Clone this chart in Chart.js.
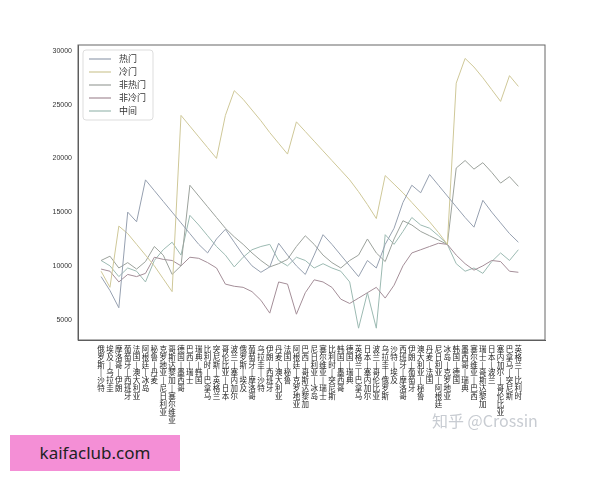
<!DOCTYPE html>
<html><head><meta charset="utf-8">
<script src="https://cdn.jsdelivr.net/npm/chart.js@4"></script>
<style>
body{margin:0;background:#fff;width:600px;height:480px;position:relative;overflow:hidden}
#wrap{position:absolute;left:0;top:0;width:600px;height:480px}
.pink{position:absolute;left:10px;top:435px;width:170px;height:36px;background:#f48fd6;color:#222;font:17px "Noto Sans",sans-serif;line-height:36px;text-align:center}
.wm{position:absolute;left:432px;top:408px;color:#c8ccd2;font:16px "Noto Sans CJK SC",sans-serif}
</style></head><body>
<div id="wrap"><canvas id="chart" width="600" height="480"></canvas></div>
<div class="pink">kaifaclub.com</div>
<div class="wm">知乎 @Crossin</div>
<script>
'use strict';

const matches = ['俄罗斯-沙特','埃及-乌拉圭','摩洛哥-伊朗','葡萄牙-西班牙','法国-澳大利亚','阿根廷-冰岛','秘鲁-丹麦','克罗地亚-尼日利亚',
  '哥斯达黎加-塞尔维亚','德国-墨西哥','巴西-瑞士','瑞典-韩国','比利时-巴拿马','突尼斯-英格兰','哥伦比亚-日本','波兰-塞内加尔',
  '俄罗斯-埃及','葡萄牙-摩洛哥','乌拉圭-沙特','伊朗-西班牙','丹麦-澳大利亚','法国-秘鲁','阿根廷-克罗地亚','巴西-哥斯达黎加',
  '尼日利亚-冰岛','塞尔维亚-瑞士','比利时-突尼斯','韩国-墨西哥','德国-瑞典','英格兰-巴拿马','日本-塞内加尔','波兰-哥伦比亚',
  '乌拉圭-俄罗斯','沙特-埃及','西班牙-摩洛哥','伊朗-葡萄牙','澳大利亚-秘鲁','丹麦-法国','尼日利亚-阿根廷','冰岛-克罗地亚',
  '韩国-德国','墨西哥-瑞典','塞尔维亚-巴西','瑞士-哥斯达黎加','日本-波兰','塞内加尔-哥伦比亚','巴拿马-突尼斯','英格兰-比利时'];

const hot = [9000,7700,6100,15000,14100,18000,17000,16000,15000,14000,13000,12000,11200,12500,13400,12200,
  11000,10000,9400,9900,12100,11000,10000,9200,11000,12900,12000,11000,10000,9000,10500,9800,
  12000,13500,15900,17500,16800,18500,17500,16500,15500,14500,13600,16100,15000,14000,13000,12200];
const cold = [9500,8000,13700,13000,12000,11000,10000,8800,7600,24000,23000,22000,21000,20000,24000,26300,
  25500,24500,23500,22400,21400,20400,23400,22500,21600,20700,19800,18900,18000,16900,15700,14400,
  18400,17600,16800,15900,15000,14100,13100,12000,27000,29300,28500,27500,26400,25300,27700,26700];
const notHot = [10500,10900,9800,10300,9700,10400,11800,11000,9200,10000,17500,16500,15500,14500,13500,12700,
  12000,11200,10500,9900,10200,10600,11800,12800,12000,11000,10300,9800,10500,11000,12500,11200,
  10400,12500,14200,13800,13200,12800,12400,12000,19100,19800,19000,19600,18700,17700,18300,17400];
const notCold = [9700,9500,8500,9200,9000,9300,10800,10600,10500,10000,10800,10700,10300,9800,8300,8100,
  8000,7600,6800,5600,8500,8300,5500,7500,8700,8500,8000,6900,6500,7000,7500,8000,
  7000,8200,10000,11200,11500,11800,12100,12000,11000,10200,9600,10000,10500,10400,9500,9400];
const middle = [10500,10000,9000,9800,9500,8500,10500,11500,12200,11000,14700,13800,12800,11800,11000,9900,
  10800,11500,11800,12000,10500,10000,10800,10500,9800,10200,9800,9500,8500,4200,7500,4200,
  12900,12000,13200,14500,13800,13500,12800,12000,10200,9500,9800,9300,10400,11200,10500,11500];

const names = ['热门','冷门','非热门','非冷门','中间'];
const colors = ['#96a0b0','#cfc898','#9ca29c','#a48e98','#9cbab2'];
const series = [hot, cold, notHot, notCold, middle];
const yTicks = [5000, 10000, 15000, 20000, 25000, 30000];

const labels = matches.map(m => m.replace('-', '|').split(''));

const legendBox = {
  id: 'legendBox',
  afterDraw(chart) {
    const c = chart.ctx, a = chart.chartArea;
    c.save();
    c.strokeStyle = '#666'; c.lineWidth = 1;
    c.strokeRect(a.left, a.top, a.right - a.left, a.bottom - a.top);
    const x = a.left + 5, y = a.top + 5;
    c.strokeStyle = '#ddd';
    c.fillStyle = 'rgba(255,255,255,0.85)';
    c.beginPath(); c.roundRect(x, y, 70, 70, 3); c.fill(); c.stroke();
    c.font = '9px "Noto Sans CJK SC"'; c.textBaseline = 'middle';
    chart.data.datasets.forEach((ds, i) => {
      const ly = y + 9 + i * 13;
      c.strokeStyle = ds.borderColor; c.lineWidth = 1.2;
      c.beginPath(); c.moveTo(x + 6, ly); c.lineTo(x + 28, ly); c.stroke();
      c.fillStyle = '#333'; c.fillText(ds.label, x + 36, ly);
    });
    c.restore();
  }
};

const ctx = document.querySelector('#chart').getContext('2d');
const chart = new Chart(ctx, {
  type: 'line',
  data: {
    datasets: series.map((d, i) => ({
      label: names[i], data: d.map((v, j) => ({x: j, y: v})), borderColor: colors[i], backgroundColor: colors[i],
      borderWidth: 1, pointRadius: 0, tension: 0, fill: false
    }))
  },
  options: {
    responsive: false, animation: false,
    layout: {padding: {left: 45, right: 55, top: 45, bottom: 0}},
    plugins: {legend: {display: false}, tooltip: {enabled: false}},
    scales: {
      x: {
        type: 'linear', min: -2.6, max: 50,
        afterBuildTicks: s => { s.ticks = matches.map((m, j) => ({value: j})); },
        grid: {display: false, tickLength: 3},
        border: {color: '#555'},
        ticks: {autoSkip: false, maxRotation: 0, minRotation: 0, color: '#222',
          callback: v => labels[v],
          font: {size: 7.5, family: 'Noto Sans CJK SC', lineHeight: 1.05}, padding: 2},
        afterFit: s => { s.height = 140; }
      },
      y: {
        min: 3100, max: 30550,
        afterBuildTicks: s => { s.ticks = yTicks.map(v => ({value: v})); },
        grid: {display: false, tickLength: 3},
        border: {color: '#555'},
        ticks: {color: '#333', font: {size: 7}, callback: v => String(v)},
        afterFit: s => { s.width = 33; }
      }
    }
  },
  plugins: [legendBox]
});
</script>
</body></html>
